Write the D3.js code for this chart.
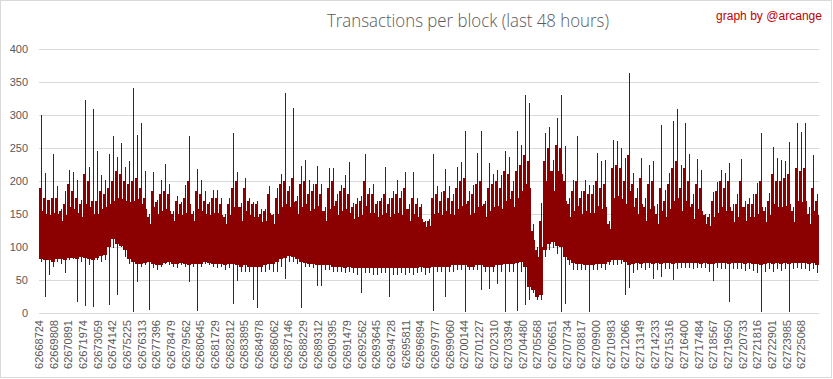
<!DOCTYPE html>
<html><head><meta charset="utf-8">
<script src="https://cdn.jsdelivr.net/npm/d3@7/dist/d3.min.js"></script>
<style>body{margin:0;background:#fff}svg{display:block}</style>
</head><body>
<svg id="chart" width="833" height="379"></svg>
<script>
const titleText = "Transactions per block (last 48 hours)";
const creditText = "graph by @arcange";
const totalBlocks = 57600;
const labelStep = 1083;
const xLabels = ["62668724","62669808","62670891","62671974","62673059","62674142","62675225","62676313","62677396","62678479","62679562","62680645","62681729","62682812","62683895","62684978","62686062","62687146","62688229","62689312","62690395","62691479","62692562","62693645","62694728","62695811","62696894","62697977","62699060","62700144","62701227","62702310","62703394","62704480","62705568","62706651","62707734","62708817","62709900","62710983","62712066","62713149","62714233","62715316","62716400","62717484","62718567","62719650","62720733","62721816","62722901","62723985","62725068"];
const yTicks = [0,50,100,150,200,250,300,350,400];
// per-bin maximum transactions (195 bins across the 48 hours)
const binHigh = [300,212,171,241,192,158,185,216,214,201,171,322,221,309,245,209,201,241,268,237,258,221,231,341,270,288,215,150,213,171,201,226,196,155,177,168,194,268,155,218,201,185,168,186,186,175,150,175,272,
214,166,204,174,168,170,158,158,192,150,189,211,333,192,310,178,223,232,201,196,223,195,160,219,219,180,194,209,229,166,175,178,241,190,196,170,175,221,175,185,201,185,214,165,214,174,165,140,142,
241,192,184,218,192,181,221,229,276,185,194,242,276,170,228,210,217,209,246,237,200,276,255,330,318,135,100,166,272,282,232,295,331,253,175,201,268,185,201,194,194,242,230,232,140,262,260,250,235,
364,212,189,235,174,225,231,165,285,187,212,291,309,225,288,241,180,234,216,150,150,184,199,217,212,227,165,180,234,170,175,180,197,272,160,182,251,235,232,231,259,160,288,275,288,160,240,181];
// per-bin minimum transactions
const binLow = [78,25,57,70,78,75,60,80,82,16,78,10,72,9,80,78,80,12,98,27,100,85,75,1,47,70,72,4,68,65,70,75,72,70,68,72,70,47,70,3,70,75,72,70,68,70,65,68,14,
48,62,62,62,19,8,62,62,65,62,62,70,52,78,78,75,8,70,70,68,41,41,65,65,62,62,62,60,62,60,58,31,60,60,58,58,60,60,25,58,58,60,58,60,58,60,62,58,60,
3,62,62,24,62,62,65,65,1,65,65,65,35,62,37,62,44,62,1,62,62,3,62,12,20,30,20,20,85,95,98,90,1,14,72,65,65,65,65,1,65,65,68,65,72,72,72,75,28,
38,60,65,68,65,68,52,65,55,66,66,50,66,68,68,68,66,68,68,68,62,48,68,66,66,16,66,66,66,64,66,64,60,1,62,66,62,66,64,66,2,66,68,66,66,64,66,60];
// per-bin top of the dense spike forest
const binUpper = [190,175,171,174,175,155,165,195,185,175,165,210,200,170,170,185,180,190,200,215,210,200,195,200,205,190,175,145,185,168,180,185,180,150,170,165,175,200,150,185,180,170,165,175,175,165,145,165,190,
200,160,190,170,165,165,150,155,180,148,175,195,200,185,205,170,195,200,180,185,195,180,155,190,200,170,185,190,180,160,165,170,200,180,180,165,170,180,165,175,180,175,190,158,175,165,160,138,140,
175,180,170,185,175,170,190,200,205,170,180,195,200,165,190,195,200,190,215,210,185,215,225,240,230,125,95,140,230,250,215,255,250,200,165,185,200,175,185,180,180,200,190,195,135,220,225,220,200,
240,195,175,205,160,195,200,150,190,170,195,220,230,190,220,200,165,195,190,148,145,170,185,200,190,200,155,165,200,160,165,165,180,200,155,170,210,200,200,205,210,155,220,215,220,150,190,170];
// per-bin top of the solid block mass
const binSolid = [155,150,148,152,150,140,148,160,158,152,145,165,160,150,150,158,160,165,170,175,172,170,168,170,172,165,158,135,160,150,155,158,155,140,150,148,152,165,140,158,155,150,148,152,152,148,135,148,160,
160,140,155,148,145,145,138,140,152,135,150,160,165,160,168,150,160,165,155,158,162,155,140,158,162,148,155,158,152,142,145,148,162,152,152,145,148,152,145,150,152,148,158,140,150,145,142,130,132,
150,152,148,155,150,148,158,162,165,148,152,160,162,145,155,160,162,158,170,172,160,175,185,195,190,110,85,100,200,215,185,215,210,170,145,155,162,150,155,152,152,162,158,160,128,175,178,172,165,
185,160,150,165,140,158,162,135,155,145,158,170,175,155,170,160,142,158,155,135,132,145,152,160,155,160,138,145,160,140,145,145,150,160,138,148,165,160,160,162,165,138,170,168,170,135,155,148];
// per-bin bottom of the solid block mass
const binLower = [82,80,80,78,82,82,80,84,84,82,85,84,82,80,84,86,88,100,112,105,102,95,82,78,75,74,76,78,75,72,72,76,78,75,74,76,74,72,75,75,74,78,76,74,75,74,72,74,74,
72,70,72,70,70,70,70,72,74,75,78,82,84,86,85,82,78,76,74,74,72,72,72,72,70,70,70,68,70,68,68,68,68,68,68,68,68,68,68,68,68,68,68,68,68,68,70,68,68,
70,70,70,70,70,72,72,72,72,70,70,72,72,70,70,70,72,72,74,74,74,76,78,70,40,35,25,28,95,105,108,102,100,85,80,76,74,74,72,72,72,74,74,74,78,80,80,80,78,
72,74,76,75,76,76,75,76,74,76,76,74,76,76,76,76,76,76,75,76,74,74,76,76,76,74,76,76,76,75,76,74,74,72,74,76,74,76,74,76,74,76,76,76,76,74,76,72];

const W = 833, H = 379;
const margin = {left: 39, right: 14, top: 49, bottom: 66};
const svg = d3.select("#chart");
const x = d3.scaleLinear().domain([0, totalBlocks]).range([margin.left, W - margin.right]);
const y = d3.scaleLinear().domain([0, 400]).range([H - margin.bottom, margin.top]);
const red = "#8b0000";

svg.append("rect").attr("x", 0.5).attr("y", 0.5).attr("width", W - 2).attr("height", H - 2)
  .attr("fill", "#fff").attr("stroke", "#d9d9d9");

svg.append("g").selectAll("line").data(yTicks).join("line")
  .attr("x1", x.range()[0]).attr("x2", x.range()[1])
  .attr("y1", d => Math.round(y(d)) + 0.5).attr("y2", d => Math.round(y(d)) + 0.5)
  .attr("stroke", "#d9d9d9").attr("stroke-width", 1);

svg.append("g").selectAll("text").data(yTicks).join("text")
  .attr("x", 28).attr("y", d => y(d)).attr("dy", "0.35em")
  .attr("text-anchor", "end").attr("fill", "#595959")
  .attr("font-family", "Liberation Sans, Arial, sans-serif").attr("font-size", 11)
  .text(d => d);

const binSize = totalBlocks / binHigh.length;
const bl = i => Math.round(x(i * binSize));
const g = svg.append("g").attr("shape-rendering", "crispEdges");

// solid mass per bin
g.append("g").selectAll("rect").data(binSolid).join("rect")
  .attr("x", (d, i) => bl(i))
  .attr("width", (d, i) => bl(i + 1) - bl(i))
  .attr("y", d => y(d))
  .attr("height", (d, i) => y(binLower[i]) - y(d))
  .attr("fill", red);

// dense forest strokes per bin (2px)
g.append("g").selectAll("rect").data(binUpper).join("rect")
  .attr("x", (d, i) => bl(i)).attr("width", 2)
  .attr("y", d => y(d))
  .attr("height", (d, i) => y(binLower[i]) - y(d))
  .attr("fill", red);

// extreme spikes per bin (1px)
g.append("g").selectAll("rect").data(binHigh).join("rect")
  .attr("x", (d, i) => bl(i) + 2).attr("width", 1)
  .attr("y", d => y(d))
  .attr("height", (d, i) => y(binLow[i]) - y(d))
  .attr("fill", red);

svg.append("g").selectAll("text").data(xLabels).join("text")
  .attr("transform", (d, i) => `translate(${x(i * labelStep + 0.5)},320) rotate(-90)`)
  .attr("dy", "0.35em").attr("text-anchor", "end").attr("fill", "#595959")
  .attr("font-family", "Liberation Sans, Arial, sans-serif").attr("font-size", 11)
  .text(d => d);

svg.append("text").attr("x", 468).attr("y", 27).attr("text-anchor", "middle")
  .attr("fill", "#595959").attr("font-family", "Open Sans, Liberation Sans, sans-serif")
  .attr("font-weight", 300).attr("font-size", 18)
  .attr("textLength", 282).attr("lengthAdjust", "spacingAndGlyphs")
  .text(titleText);

svg.append("text").attr("x", 822).attr("y", 20).attr("text-anchor", "end")
  .attr("fill", "#c00000").attr("font-family", "Liberation Sans, Arial, sans-serif")
  .attr("font-size", 12).attr("textLength", 106).attr("lengthAdjust", "spacingAndGlyphs")
  .text(creditText);
</script>
</body></html>
